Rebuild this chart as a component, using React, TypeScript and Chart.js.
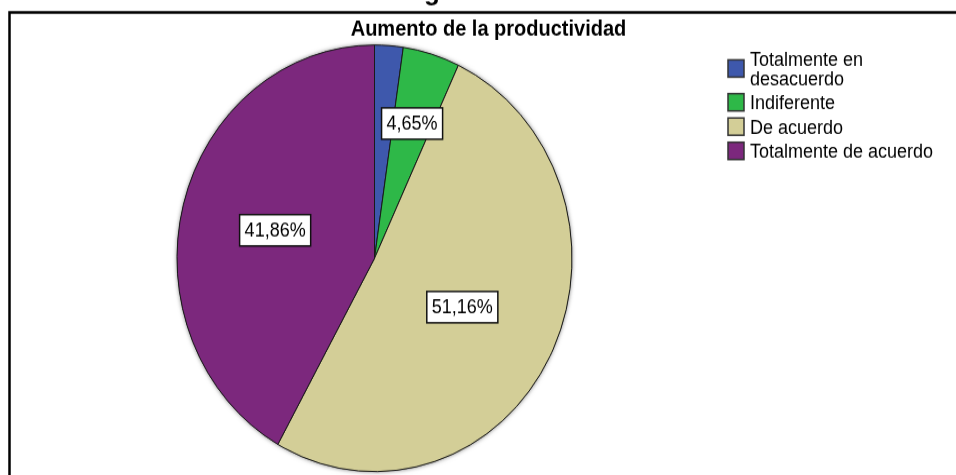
import { useEffect, useRef } from "react";
import { Chart, registerables } from "chart.js";

Chart.register(...registerables);

// ---- data ----
const categories = ["Totalmente en desacuerdo", "Indiferente", "De acuerdo", "Totalmente de acuerdo"];
const legendLines = [["Totalmente en", "desacuerdo"], ["Indiferente"], ["De acuerdo"], ["Totalmente de acuerdo"]];
const percentages = [2.33, 4.65, 51.16, 41.86];
const percentLabels = ["", "4,65%", "51,16%", "41,86%"];
const sliceColors = ["#3E58AC", "#2EB848", "#D3CE97", "#7C287D"];
const chartTitle = "Aumento de la productividad";
const figureCaption = "Figura";

// ---- layout (unstretched canvas coordinates) ----
const W = 956;
const H = 475;
const SY = 1.08;
const CH = Math.round(H / SY);
const FONT = "'Liberation Sans', Arial, sans-serif";
const labelFractions = [0.5, 0.66, 0.5, 0.52];

const decorPlugin = {
  id: "decor",
  beforeDraw(chart: any) {
    const ctx = chart.ctx;
    ctx.save();
    ctx.fillStyle = "#fff";
    ctx.fillRect(0, 0, chart.width, chart.height);
    // cut-off caption above the frame (only descender visible)
    ctx.fillStyle = "#000";
    ctx.font = `bold 26px ${FONT}`;
    ctx.textAlign = "left";
    ctx.textBaseline = "alphabetic";
    const pre = ctx.measureText("Fi").width;
    ctx.fillText(figureCaption, 424 - pre, -0.3);
    // frame
    ctx.strokeStyle = "#000";
    ctx.lineWidth = 2.5;
    ctx.strokeRect(9.5, 11.5, 1200, 1200);
    // title
    ctx.font = `bold 20px ${FONT}`;
    ctx.textAlign = "center";
    ctx.fillText(chartTitle, 488.5, 33.3);
    ctx.restore();
  },
  beforeDatasetsDraw(chart: any) {
    const meta = chart.getDatasetMeta(0);
    const arc = meta.data[0];
    if (!arc) return;
    const { x, y, outerRadius } = arc.getProps(["x", "y", "outerRadius"], true);
    const ctx = chart.ctx;
    ctx.save();
    ctx.shadowColor = "rgba(0,0,0,0.55)";
    ctx.shadowBlur = 4;
    ctx.fillStyle = "#222";
    ctx.beginPath();
    ctx.arc(x, y, outerRadius, 0, Math.PI * 2);
    ctx.fill();
    ctx.restore();
  },
  afterDatasetsDraw(chart: any) {
    const meta = chart.getDatasetMeta(0);
    const ctx = chart.ctx;
    ctx.save();
    ctx.font = `18px ${FONT}`;
    ctx.textAlign = "center";
    ctx.textBaseline = "middle";
    meta.data.forEach((arc: any, i: number) => {
      const txt = percentLabels[i];
      if (!txt) return;
      const { x, y, startAngle, endAngle, outerRadius } = arc.getProps(
        ["x", "y", "startAngle", "endAngle", "outerRadius"],
        true
      );
      const mid = (startAngle + endAngle) / 2;
      const r = outerRadius * labelFractions[i];
      const px = x + Math.cos(mid) * r;
      const py = y + Math.sin(mid) * r;
      const tw = ctx.measureText(txt).width;
      const bw = tw + 10;
      const bh = 29;
      ctx.fillStyle = "#fff";
      ctx.fillRect(px - bw / 2, py - bh / 2, bw, bh);
      ctx.strokeStyle = "#111";
      ctx.lineWidth = 1.5;
      ctx.strokeRect(px - bw / 2, py - bh / 2, bw, bh);
      ctx.fillStyle = "#000";
      ctx.fillText(txt, px, py + 1);
    });
    ctx.restore();
  },
  afterDraw(chart: any) {
    const ctx = chart.ctx;
    ctx.save();
    ctx.font = `18px ${FONT}`;
    ctx.textAlign = "left";
    ctx.textBaseline = "alphabetic";
    const lineH = 17.6;
    const itemGap = 22.5;
    let base = 61.1;
    categories.forEach((_c, i) => {
      const lines = legendLines[i];
      const capTop = base - 13;
      const last = base + (lines.length - 1) * lineH;
      const cy = (capTop + last) / 2;
      ctx.fillStyle = sliceColors[i];
      ctx.fillRect(728, cy - 8, 16, 16);
      ctx.strokeStyle = "#333";
      ctx.lineWidth = 1.5;
      ctx.strokeRect(728, cy - 8, 16, 16);
      ctx.fillStyle = "#000";
      lines.forEach((ln, j) => ctx.fillText(ln, 750, base + j * lineH));
      base = last + itemGap;
    });
    ctx.restore();
  },
};

export default function App() {
  const ref = useRef<HTMLCanvasElement | null>(null);
  useEffect(() => {
    if (!ref.current) return;
    const chart = new Chart(ref.current, {
      type: "pie",
      data: {
        labels: categories,
        datasets: [
          {
            data: percentages,
            backgroundColor: sliceColors,
            borderColor: "#1a1a1a",
            borderWidth: 1,
          },
        ],
      },
      options: {
        responsive: false,
        animation: false,
        devicePixelRatio: 1,
        radius: 197.5,
        layout: { padding: { left: 177, right: W - 572, top: 41.7, bottom: CH - 41.7 - 395 } },
        plugins: {
          legend: { display: false },
          tooltip: { enabled: false },
          title: { display: false },
        },
      } as any,
      plugins: [decorPlugin],
    });
    return () => chart.destroy();
  }, []);
  return (
    <div style={{ position: "absolute", left: 0, top: 0, width: W, height: H, overflow: "hidden", background: "#fff" }}>
      <canvas
        ref={ref}
        width={W}
        height={CH}
        style={{ display: "block", width: W, height: CH, transform: `scaleY(${SY})`, transformOrigin: "0 0" }}
      />
    </div>
  );
}
